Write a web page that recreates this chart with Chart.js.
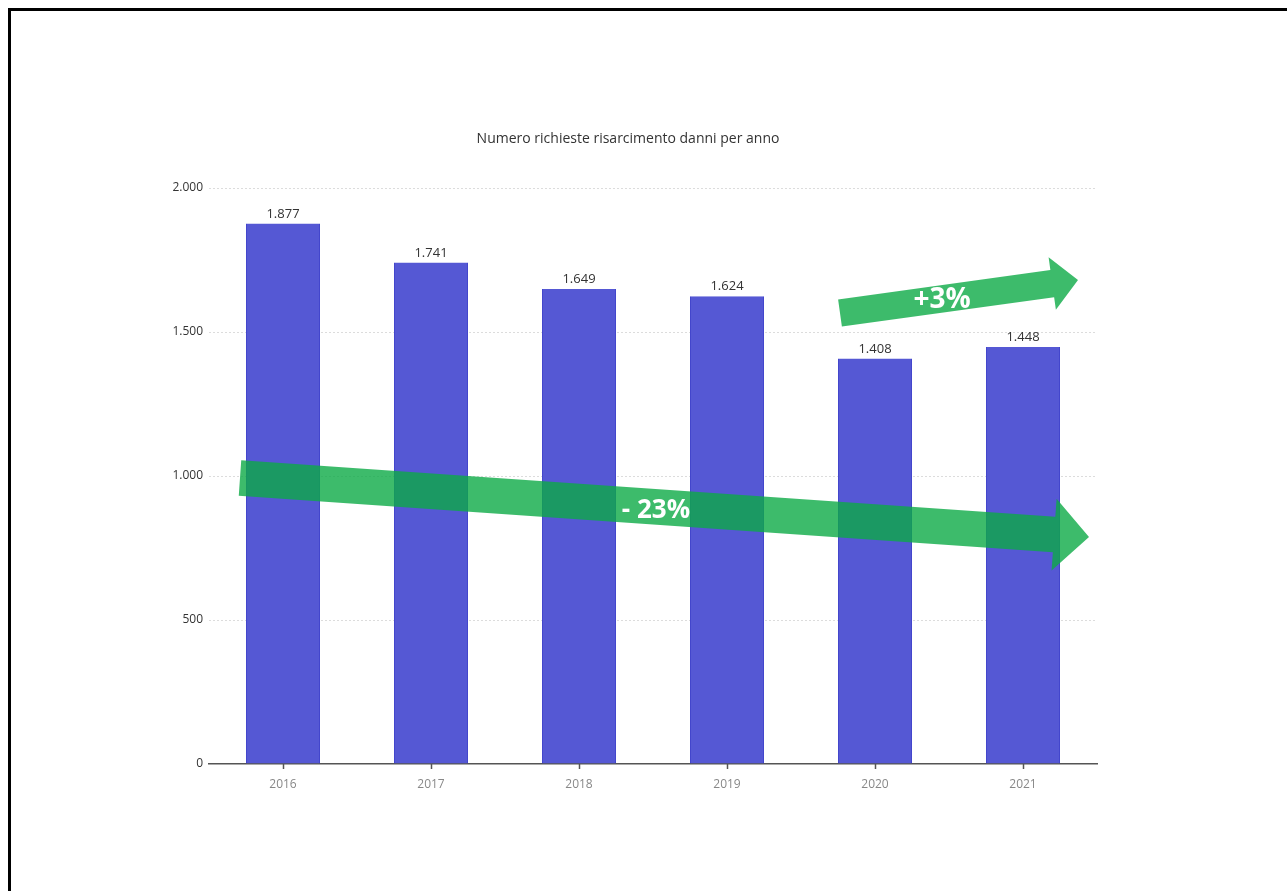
<!DOCTYPE html>
<html>
<head>
<meta charset="utf-8">
<script src="https://cdn.jsdelivr.net/npm/chart.js@4.4.1/dist/chart.umd.min.js"></script>
<style>
    html, body { margin: 0; padding: 0; background: #fff; overflow: hidden; }
    #frame {
        position: absolute; left: 8px; top: 8px; width: 1400px; height: 1000px;
        border-left: 3px solid #000; border-top: 3px solid #000;
    }
    #wrap { position: absolute; left: 0; top: 0; width: 1257px; height: 891px; }
</style>
</head>
<body>
<div id="frame"></div>
<div id="wrap"><canvas id="myChart"></canvas></div>
<script>
const years = ['2016', '2017', '2018', '2019', '2020', '2021'];
const richieste = [1877, 1741, 1649, 1624, 1408, 1448];
const yTicks = [0, 500, 1000, 1500, 2000];
const chartTitle = 'Numero richieste risarcimento danni per anno';
const trendLabels = ['- 23%', '+3%'];

function formatIt(n) {
    return String(n).replace(/\B(?=(\d{3})+(?!\d))/g, '.');
}

// green trend arrows drawn over the bars
function drawArrow(ctx, sx, sy, tx, ty, shaft, head, headLen) {
    const ang = Math.atan2(ty - sy, tx - sx);
    const ux = Math.cos(ang), uy = Math.sin(ang);
    const nx = -uy, ny = ux;
    const bx = tx - ux * headLen, by = ty - uy * headLen;
    ctx.beginPath();
    ctx.moveTo(sx + nx * shaft / 2, sy + ny * shaft / 2);
    ctx.lineTo(bx + nx * shaft / 2, by + ny * shaft / 2);
    ctx.lineTo(bx + nx * head / 2, by + ny * head / 2);
    ctx.lineTo(tx, ty);
    ctx.lineTo(bx - nx * head / 2, by - ny * head / 2);
    ctx.lineTo(bx - nx * shaft / 2, by - ny * shaft / 2);
    ctx.lineTo(sx - nx * shaft / 2, sy - ny * shaft / 2);
    ctx.closePath();
    ctx.fill();
}

const extras = {
    id: 'extras',
    afterDatasetsDraw(chart) {
        const ctx = chart.ctx;
        const meta = chart.getDatasetMeta(0);
        const xScale = chart.scales.x;
        const bottom = chart.chartArea.bottom;
        ctx.save();

        // small tick marks under each year
        ctx.strokeStyle = '#555';
        ctx.lineWidth = 1.5;
        years.forEach((y, i) => {
            const px = Math.round(xScale.getPixelForTick(i)) + 0.5;
            ctx.beginPath();
            ctx.moveTo(px, bottom);
            ctx.lineTo(px, bottom + 5);
            ctx.stroke();
        });

        ctx.fillStyle = '#333';
        ctx.font = '14px "Open Sans"';
        ctx.textAlign = 'center';
        ctx.textBaseline = 'middle';
        ctx.fillText(chartTitle, 628, 139);

        ctx.font = '13px "Open Sans"';
        ctx.textBaseline = 'bottom';
        meta.data.forEach((bar, i) => {
            ctx.fillText(formatIt(richieste[i]), bar.x, bar.y - 3);
        });

        ctx.fillStyle = 'rgba(12, 170, 70, 0.8)';
        drawArrow(ctx, 240, 478, 1089, 537, 35.5, 72, 35);
        drawArrow(ctx, 840, 313, 1078, 280, 27.5, 53, 26);

        ctx.fillStyle = '#fff';
        ctx.textBaseline = 'middle';
        ctx.font = 'bold 26px "Open Sans"';
        ctx.fillText(trendLabels[0], 656, 511);
        ctx.font = 'bold 28px "Open Sans"';
        ctx.fillText(trendLabels[1], 942, 300);
        ctx.restore();
    }
};

let ctx = document.getElementById('myChart').getContext('2d');
let chart = new Chart(ctx, {
    type: 'bar',
    data: {
        labels: years,
        datasets: [{
            label: 'Numero richieste',
            data: richieste,
            backgroundColor: '#5558d4',
            borderColor: '#4346cc',
            borderWidth: { left: 1, right: 1, top: 0, bottom: 0 },
            categoryPercentage: 1,
            barPercentage: 0.5
        }]
    },
    options: {
        responsive: true,
        maintainAspectRatio: false,
        animation: false,
        layout: { padding: { left: 0, right: 160, top: 188, bottom: 0 } },
        plugins: {
            legend: { display: false },
            tooltip: { enabled: false },
            title: { display: false }
        },
        scales: {
            x: {
                grid: { display: false },
                border: { display: true, color: '#555', width: 1.5 },
                ticks: { color: '#888', font: { family: 'Open Sans', size: 12 }, padding: 5 },
                afterFit: s => { s.height = 127; }
            },
            y: {
                min: 0,
                max: 2000,
                afterBuildTicks: s => { s.ticks = yTicks.map(v => ({ value: v })); },
                afterFit: s => { s.width = 209; },
                grid: {
                    drawTicks: false,
                    color: c => c.tick && c.tick.value === 0 ? 'rgba(0,0,0,0)' : '#dcdcdc'
                },
                border: { display: false, dash: [2, 2] },
                ticks: {
                    color: '#333',
                    padding: 6,
                    font: { family: 'Open Sans', size: 12 },
                    callback: v => formatIt(v)
                }
            }
        }
    },
    plugins: [extras]
});
</script>
</body>
</html>
